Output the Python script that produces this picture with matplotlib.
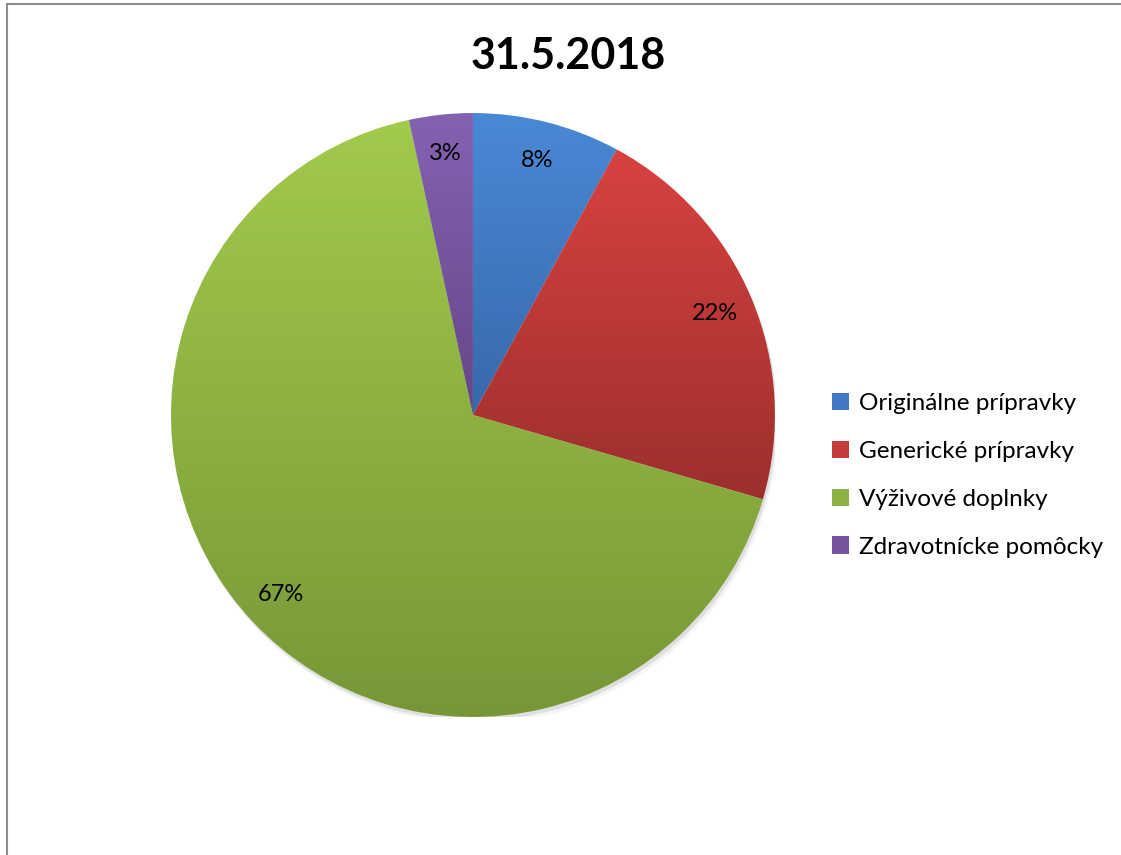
import numpy as np
import matplotlib
matplotlib.use("Agg")
import matplotlib.pyplot as plt
from matplotlib.colors import LinearSegmentedColormap
from matplotlib.patches import Circle
from matplotlib.lines import Line2D
from matplotlib.patches import Patch

plt.rcParams['font.family'] = ['Lato', 'DejaVu Sans']

# data
labels = ["Originálne prípravky", "Generické prípravky", "Výživové doplnky", "Zdravotnícke pomôcky"]
shares = [7.9, 21.6, 67.1, 3.4]
title = "31.5.2018"

# gradient colours (top, bottom) per slice
tops = ["#4a89d6", "#d8423f", "#a2ca4b", "#8462b2"]
bottoms = ["#3868aa", "#9c2f2d", "#779737", "#654787"]
mids = ["#4279c2", "#c23c39", "#8db243", "#74559e"]

fig = plt.figure(figsize=(11.21, 8.55), dpi=100)
ax = fig.add_axes([0.1525, 0.1614, 0.5388, 0.7064])

# soft shadow under the pie
for off, a in [(0.012, 0.18), (0.022, 0.08)]:
    ax.add_patch(Circle((off * 0.5, -off), 1.0, color="#808080", alpha=a, lw=0, zorder=0))

wedges, texts, autotexts = ax.pie(shares, startangle=90, counterclock=False,
                                  autopct='%1.0f%%', pctdistance=0.87,
                                  textprops=dict(fontsize=17, color="black"))

grad = np.linspace(0, 1, 256).reshape(-1, 1)
for w, c1, c2 in zip(wedges, tops, bottoms):
    w.set_facecolor("none")
    w.set_edgecolor("none")
    bb = w.get_path().get_extents()
    cmap = LinearSegmentedColormap.from_list("g", [c1, c2])
    im = ax.imshow(grad, cmap=cmap, extent=(bb.x0, bb.x1, bb.y0, bb.y1),
                   origin='upper', aspect='auto', zorder=1, interpolation='bilinear')
    im.set_clip_path(w)

for t in autotexts:
    t.set_zorder(5)

ax.set_xlim(-1, 1)
ax.set_ylim(-1, 1)
ax.set_aspect('equal')
ax.axis('off')

fig.text(0.507, 0.935, title, ha='center', va='center', fontsize=31, fontweight='bold')

handles = [Patch(facecolor=c, edgecolor='none') for c in mids]
fig.legend(handles, labels, loc='center left', bbox_to_anchor=(0.723, 0.444),
           frameon=False, fontsize=17.5, handlelength=0.7, handleheight=0.7,
           handletextpad=0.4, labelspacing=1.1)

# chart border (left and top only visible)
fig.add_artist(Line2D([0.0058, 0.0058], [0, 0.9953], color="#8c8c8c", lw=1.5))
fig.add_artist(Line2D([0.0058, 1.0], [0.9953, 0.9953], color="#8c8c8c", lw=1.5))

fig.savefig("out.png", dpi=100, facecolor="white")
